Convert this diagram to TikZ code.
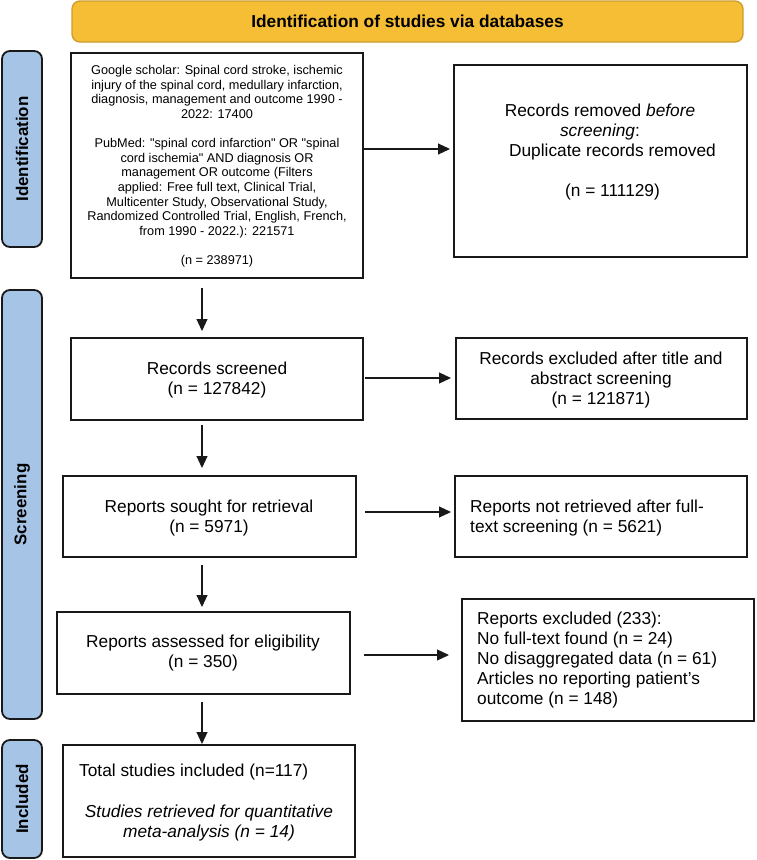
\documentclass[tikz,border=0pt]{standalone}
\usepackage{fontspec}
\setmainfont{Liberation Sans}[Ligatures=TeXOff]
\usetikzlibrary{arrows.meta}
\definecolor{hdrfill}{RGB}{246,190,52}
\definecolor{hdrline}{RGB}{206,158,48}
\definecolor{sidefill}{RGB}{166,196,230}
\definecolor{sideline}{RGB}{25,25,25}
\begin{document}
\begin{tikzpicture}[x=1pt,y=-1pt,
  hdrbox/.style={draw=hdrline,fill=hdrfill,line width=1.4pt,rounded corners=8pt,inner sep=0pt,outer sep=0pt,
     font=\fontsize{17.3}{20}\selectfont\bfseries},
  sidebox/.style={draw=sideline,fill=sidefill,line width=1.8pt,rounded corners=8pt,inner sep=0pt,outer sep=0pt,
     minimum width=40pt},
  sidetext/.style={rotate=90,font=\fontsize{16.9}{20}\selectfont\bfseries,inner sep=0pt},
  flowbox/.style={draw=black!90,line width=1.8pt,inner sep=0pt,outer sep=0pt},
  boxtext/.style={font=\fontsize{17.3}{20}\selectfont,inner sep=0pt},
  smalltext/.style={font=\fontsize{12.7}{14.6}\selectfont,inner sep=0pt,align=center},
  arr/.style={-{Triangle[length=12pt,width=11pt]},line width=1.1pt,black!90}]
\useasboundingbox (0,0) rectangle (756,860);

% header
\node[hdrbox,minimum width=671pt,minimum height=41pt] (hdr) at (407.5,21.5) {Identification of studies via databases};

% side labels
\node[sidebox,minimum height=196pt] (sid1) at (22,149) {};
\node[sidetext] (sid1t) at (sid1.center) {Identification};
\node[sidebox,minimum height=429pt] (sid2) at (22,504.5) {};
\node[sidetext] (sid2t) at (sid2.center) {Screening};
\node[sidebox,minimum height=118pt] (sid3) at (22,799) {};
\node[sidetext] (sid3t) at (sid3.center) {Included};

% left column
\node[flowbox,minimum width=292pt,minimum height=225pt] (b1) at (217,165.5) {};
\node[smalltext] (b1t) at (217,166.4) {Google scholar: Spinal cord stroke, ischemic\\
injury of the spinal cord, medullary infarction,\\
diagnosis, management and outcome 1990 -\\
2022: 17400\\[14.6pt]
PubMed: "spinal cord infarction" OR "spinal\\
cord ischemia" AND diagnosis OR\\
management OR outcome (Filters\\
applied: Free full text, Clinical Trial,\\
Multicenter Study, Observational Study,\\
Randomized Controlled Trial, English, French,\\
from 1990 - 2022.): 221571\\[14.6pt]
(n = 238971)};

\node[flowbox,minimum width=292pt,minimum height=82pt] (b2) at (217,379) {};
\node[boxtext,align=center] (b2t) at (217,380) {Records screened\\(n = 127842)};

\node[flowbox,minimum width=293pt,minimum height=81pt] (b3) at (209.5,516.5) {};
\node[boxtext,align=center] (b3t) at (209,518) {Reports sought for retrieval\\(n = 5971)};

\node[flowbox,minimum width=293pt,minimum height=82pt] (b4) at (203.5,653) {};
\node[boxtext,align=center] (b4t) at (203,653.5) {Reports assessed for eligibility\\(n = 350)};

\node[flowbox,minimum width=292pt,minimum height=112pt] (b5) at (209,801) {};
\node[boxtext,anchor=west] (b5a) at (79,772) {Total studies included (n=117)};
\node[boxtext,align=center,font=\fontsize{17.3}{20}\selectfont\itshape] (b5b) at (209,823) {Studies retrieved for quantitative\\meta-analysis (n = 14)};

% right column
\node[flowbox,minimum width=293pt,minimum height=192pt] (r1) at (600.5,161) {};
\node[boxtext,align=center] (r1t) at (600,152) {Records removed \textit{before}\\
\textit{screening}:\\
\hspace*{25pt}Duplicate records removed\\[20pt]
\hspace*{25pt}(n = 111129)};

\node[flowbox,minimum width=291pt,minimum height=81pt] (r2) at (601.5,378.5) {};
\node[boxtext,align=center] (r2t) at (601,380) {Records excluded after title and\\abstract screening\\(n = 121871)};

\node[flowbox,minimum width=292pt,minimum height=81pt] (r3) at (601,516.5) {};
\node[boxtext,align=left,anchor=west] (r3t) at (470,518) {Reports not retrieved after full-\\text screening (n = 5621)};

\node[flowbox,minimum width=292pt,minimum height=122pt] (r4) at (608,660) {};
\node[boxtext,align=left,anchor=west] (r4t) at (477,660.5) {Reports excluded (233):\\
No full-text found (n = 24)\\
No disaggregated data (n = 61)\\
Articles no reporting patient’s\\
outcome (n = 148)};

% connector guide coordinates
\coordinate (col) at (202,0);
\coordinate (h1) at (0,149);
\coordinate (h2) at (0,378);
\coordinate (h3) at (0,512);
\coordinate (h4) at (0,655);

% vertical arrows
\draw[arr,shorten <=10pt,shorten >=7pt] (b1.south -| col) -- (b2.north -| col);
\draw[arr,shorten <=5pt,shorten >=8pt] (b2.south -| col) -- (b3.north -| col);
\draw[arr,shorten <=8pt,shorten >=5pt] (b3.south -| col) -- (b4.north -| col);
\draw[arr,shorten <=8pt,shorten >=1pt] (b4.south -| col) -- (b5.north -| col);

% horizontal arrows
\draw[arr,shorten >=4pt] (b1.east |- h1) -- (r1.west |- h1);
\draw[arr,shorten <=2pt,shorten >=5pt] (b2.east |- h2) -- (r2.west |- h2);
\draw[arr,shorten <=9pt,shorten >=4pt] (b3.east |- h3) -- (r3.west |- h3);
\draw[arr,shorten <=14pt,shorten >=13pt] (b4.east |- h4) -- (r4.west |- h4);
\end{tikzpicture}
\end{document}
